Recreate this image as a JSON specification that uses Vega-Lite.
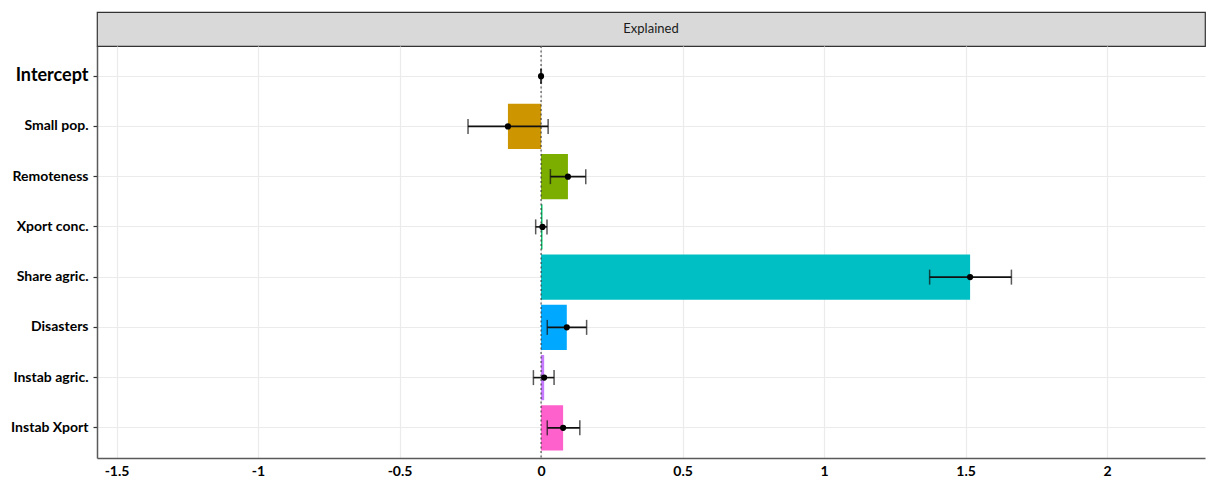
{
  "$schema": "https://vega.github.io/schema/vega-lite/v6.json",
  "background": "white",
  "padding": {"left": 10, "top": 11, "right": 3, "bottom": 0},
  "spacing": 0,
  "bounds": "flush",
  "config": {"view": {"stroke": null}, "font": "Lato"},
  "datasets": {
    "coef": [
      {"term": "Intercept", "est": 0, "lo": -0.001, "hi": 0.001},
      {"term": "Small pop.", "est": -0.117, "lo": -0.258, "hi": 0.025},
      {"term": "Remoteness", "est": 0.095, "lo": 0.033, "hi": 0.158},
      {"term": "Xport conc.", "est": 0.005, "lo": -0.019, "hi": 0.021},
      {"term": "Share agric.", "est": 1.516, "lo": 1.373, "hi": 1.662},
      {"term": "Disasters", "est": 0.091, "lo": 0.022, "hi": 0.161},
      {"term": "Instab agric.", "est": 0.011, "lo": -0.027, "hi": 0.046},
      {"term": "Instab Xport", "est": 0.078, "lo": 0.022, "hi": 0.137}
    ]
  },
  "vconcat": [
    {
      "width": 1108,
      "height": 34,
      "data": {"values": [{"panel": "Explained"}]},
      "view": {"fill": "#d9d9d9", "stroke": "#333333", "strokeWidth": 1.2},
      "mark": {"type": "text", "font": "Lato", "fontSize": 13, "color": "#1a1a1a"},
      "encoding": {"text": {"field": "panel", "type": "nominal"}}
    },
    {
      "width": 1108,
      "height": 412,
      "data": {"name": "coef"},
      "layer": [
        {
          "mark": {"type": "bar"},
          "encoding": {
            "y": {
              "field": "term",
              "type": "nominal",
              "sort": null,
              "scale": {
                "type": "band",
                "domain": ["Intercept", "Small pop.", "Remoteness", "Xport conc.", "Share agric.", "Disasters", "Instab agric.", "Instab Xport"],
                "paddingInner": 0.1,
                "paddingOuter": 0.15
              },
              "axis": {
                "title": null,
                "grid": true,
                "bandPosition": 0.5,
                "gridColor": "#ebebeb",
                "gridWidth": 1.2,
                "ticks": true,
                "tickSize": 4,
                "tickColor": "#333333",
                "tickWidth": 1.2,
                "labelFont": "Lato",
                "labelFontWeight": "bold",
                "labelFontSize": {"condition": {"test": "datum.value === 'Intercept'", "value": 18}, "value": 14},
                "labelColor": "#000000",
                "labelPadding": 5,
                "domainColor": "#5a5a5a",
                "domainWidth": 1.5
              }
            },
            "x": {
              "field": "est",
              "type": "quantitative",
              "scale": {"domain": [-1.569, 2.346], "nice": false, "zero": false},
              "axis": {
                "title": null,
                "values": [-1.5, -1, -0.5, 0, 0.5, 1, 1.5, 2],
                "labelExpr": "datum.value + ''",
                "ticks": false,
                "grid": true,
                "gridColor": "#ebebeb",
                "gridWidth": 1.2,
                "labelFont": "Lato",
                "labelFontWeight": "bold",
                "labelFontSize": 14,
                "labelColor": "#000000",
                "labelPadding": 6,
                "domainColor": "#5a5a5a",
                "domainWidth": 1.5
              }
            },
            "color": {
              "field": "term",
              "type": "nominal",
              "scale": {
                "domain": ["Intercept", "Small pop.", "Remoteness", "Xport conc.", "Share agric.", "Disasters", "Instab agric.", "Instab Xport"],
                "range": ["#F8766D", "#CD9600", "#7CAE00", "#00BE67", "#00BFC4", "#00A9FF", "#C77CFF", "#FF61CC"]
              },
              "legend": null
            }
          }
        },
        {
          "data": {"values": [{"z": 0}]},
          "mark": {"type": "rule", "color": "#333333", "strokeWidth": 1, "strokeDash": [2, 2.5]},
          "encoding": {"x": {"field": "z", "type": "quantitative"}}
        },
        {
          "mark": {"type": "rule", "color": "#111111", "strokeWidth": 1.6},
          "encoding": {
            "y": {"field": "term", "type": "nominal"},
            "x": {"field": "lo", "type": "quantitative"},
            "x2": {"field": "hi"}
          }
        },
        {
          "mark": {"type": "tick", "color": "#111111", "size": 15, "thickness": 1.5},
          "encoding": {
            "y": {"field": "term", "type": "nominal"},
            "x": {"field": "lo", "type": "quantitative"}
          }
        },
        {
          "mark": {"type": "tick", "color": "#111111", "size": 15, "thickness": 1.5},
          "encoding": {
            "y": {"field": "term", "type": "nominal"},
            "x": {"field": "hi", "type": "quantitative"}
          }
        },
        {
          "mark": {"type": "point", "filled": true, "color": "#000000", "size": 38, "opacity": 1},
          "encoding": {
            "y": {"field": "term", "type": "nominal"},
            "x": {"field": "est", "type": "quantitative"}
          }
        }
      ]
    }
  ]
}
